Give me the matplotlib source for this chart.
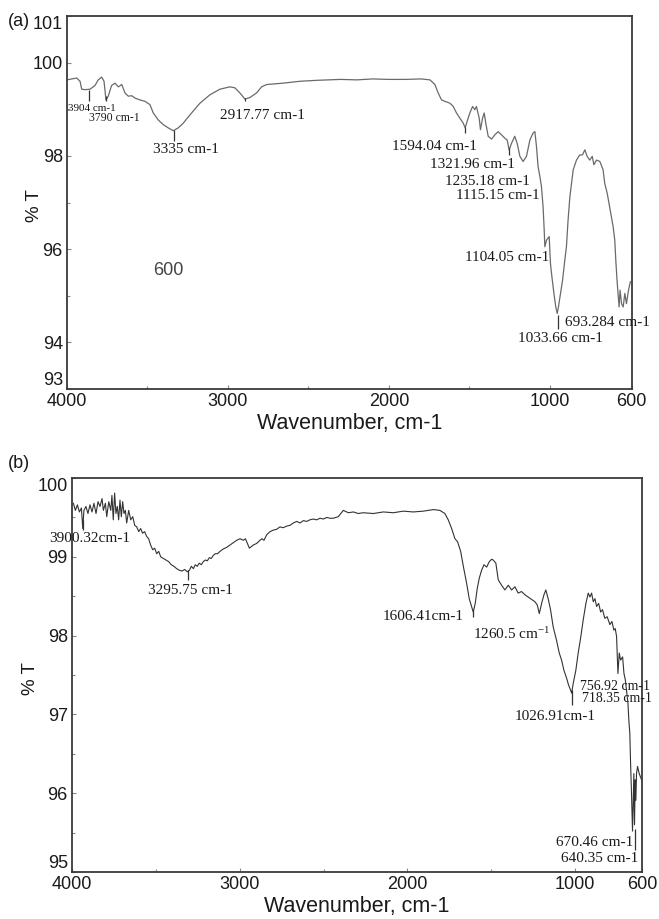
import numpy as np
import matplotlib
matplotlib.use("Agg")
import matplotlib.pyplot as plt
from matplotlib.ticker import FixedLocator, FixedFormatter

plt.rcParams['font.family'] = ['Liberation Sans', 'DejaVu Sans']
plt.rcParams['mathtext.fontset'] = 'custom'
plt.rcParams['mathtext.rm'] = 'Liberation Serif'
plt.rcParams['mathtext.it'] = 'Liberation Serif:italic'

# ---------------- data: panel (a) ----------------
wn_a = [4000, 3971, 3940, 3919, 3909, 3888, 3857, 3826, 3806, 3785, 3770, 3758, 3744, 3723,
        3702, 3681, 3660, 3640, 3619, 3598, 3578, 3547, 3516, 3485, 3464, 3433, 3402, 3371,
        3340, 3309, 3278, 3236, 3174, 3112, 3050, 2988, 2957, 2926, 2895, 2864, 2822, 2791,
        2760, 2657, 2553, 2450, 2367, 2300, 2200, 2100, 2000, 1900, 1800, 1745,
        1714, 1694, 1673, 1652, 1621, 1600, 1580, 1559, 1538, 1526, 1514, 1497, 1480, 1466,
        1456, 1439, 1431, 1418, 1408, 1398, 1383, 1362, 1342, 1321, 1300, 1280, 1265, 1253,
        1238, 1218, 1203, 1186, 1166, 1145, 1124, 1104, 1093, 1083, 1073, 1062, 1052, 1042,
        1035, 1031, 1021, 1004, 997, 990, 980, 971, 964, 958, 948, 938, 927, 919, 911, 902,
        894, 886, 870, 854, 841, 829, 818, 805, 793, 785, 772, 756, 740, 732, 720, 711, 699,
        691, 683, 678, 672, 667, 662, 657, 650, 642, 634, 626, 616, 607]
T_a = [99.63, 99.65, 99.67, 99.60, 99.43, 99.42, 99.43, 99.51, 99.63, 99.69, 99.60, 99.20,
       99.28, 99.51, 99.56, 99.48, 99.53, 99.35, 99.28, 99.29, 99.24, 99.20, 99.17, 99.10,
       98.92, 98.77, 98.67, 98.60, 98.54, 98.60, 98.70, 98.88, 99.13, 99.31, 99.43, 99.48,
       99.46, 99.35, 99.22, 99.25, 99.35, 99.48, 99.53, 99.56, 99.60, 99.62, 99.63, 99.64,
       99.63, 99.65, 99.64, 99.64, 99.65, 99.63,
       99.53, 99.35, 99.20, 99.17, 99.13, 99.06, 98.92, 98.81, 98.70, 98.60, 98.74, 98.92,
       99.06, 98.99, 99.06, 98.81, 98.56, 98.81, 98.92, 98.70, 98.42, 98.36, 98.45, 98.52,
       98.45, 98.38, 98.34, 98.13, 98.27, 98.42, 98.27, 97.99, 97.88, 97.99, 98.34, 98.49,
       98.52, 98.20, 97.77, 97.56, 97.34, 96.91, 96.41, 96.05, 96.19, 96.27, 95.69, 95.41,
       95.05, 94.76, 94.62, 94.76, 95.05, 95.33, 95.76, 96.05, 96.62, 97.13, 97.41, 97.70,
       97.91, 98.02, 98.02, 98.13, 97.99, 97.91, 97.99, 97.81, 97.91, 97.88, 97.70, 97.41,
       97.20, 96.98, 96.70, 96.48, 96.19, 95.76, 95.33, 95.05, 94.76, 95.12, 94.83, 94.76,
       95.05, 94.83, 95.12, 95.30]

# peak labels, panel (a)
lab_a = ["3904 cm-1", "3790 cm-1", "3335 cm-1", "2917.77 cm-1", "1594.04 cm-1",
         "1321.96 cm-1", "1235.18 cm-1", "1115.15 cm-1", "1104.05 cm-1",
         "693.284 cm-1", "1033.66 cm-1"]
lab_a_x = [3994, 3861, 3466, 3050, 1981, 1745, 1652, 1584, 1528, 927, 1199]
lab_a_y = [99.01, 98.82, 98.13, 98.86, 98.21, 97.81, 97.46, 97.16, 95.83, 94.43, 94.09]
lab_a_size = [8, 8.5, 11, 11, 11, 11, 11, 11, 11, 11, 11]

mark_a_x = [3861, 3758, 3335, 2895, 1526, 1253, 962]
mark_a_top = [99.42, 99.28, 98.56, 99.25, 98.62, 98.16, 94.58]
mark_a_bot = [99.17, 99.17, 98.31, 99.17, 98.48, 98.02, 94.29]

# ---------------- data: panel (b) ----------------
wn_b = [3992, 3980, 3968, 3956, 3944, 3936, 3929, 3917, 3905, 3893, 3881, 3869, 3857, 3845,
        3833, 3821, 3813, 3801, 3793, 3781, 3769, 3762, 3754, 3746, 3738, 3730, 3722, 3714,
        3706, 3698, 3690, 3682, 3674, 3662, 3650, 3638, 3626, 3614, 3602, 3591, 3579, 3567,
        3555, 3543, 3531, 3519, 3507, 3495, 3483, 3471, 3455, 3439, 3424, 3408, 3392, 3376,
        3360, 3344, 3328, 3312, 3300, 3288, 3276, 3265, 3253, 3241, 3229, 3217, 3205, 3193,
        3181, 3169, 3157, 3145, 3133, 3117, 3098, 3078, 3058, 3038, 3018, 2998, 2978, 2966,
        2954, 2942, 2931, 2919, 2899, 2879, 2867, 2855, 2839, 2819, 2799, 2779, 2760, 2740,
        2720, 2700, 2680, 2660, 2640, 2620, 2601, 2581, 2561, 2541, 2521, 2501, 2481, 2461,
        2441, 2412, 2382, 2352, 2322, 2293, 2263, 2203, 2143, 2084, 2024, 1965, 1905, 1845,
        1806, 1776, 1756, 1736, 1716, 1700, 1682, 1666, 1646, 1631, 1617, 1607, 1595, 1583,
        1571, 1557, 1543, 1527, 1511, 1497, 1488, 1472, 1458, 1438, 1418, 1398, 1378, 1358,
        1339, 1319, 1299, 1279, 1259, 1239, 1225, 1213, 1199, 1185, 1174, 1160, 1146, 1130,
        1110, 1094, 1080, 1066, 1050, 1038, 1030, 1020, 1011, 995, 981, 965, 951, 935, 921,
        911, 901, 891, 881, 871, 859, 847, 836, 822, 808, 792, 780, 768, 760, 752, 744, 736,
        728, 716, 708, 700, 692, 684, 679, 673, 669, 663, 657, 653, 649, 645, 641, 637, 633,
        627, 617, 603]
T_b = [99.68, 99.59, 99.66, 99.57, 99.62, 99.36, 99.59, 99.64, 99.55, 99.66, 99.57, 99.68,
       99.55, 99.70, 99.64, 99.74, 99.59, 99.68, 99.51, 99.70, 99.59, 99.78, 99.47, 99.81,
       99.55, 99.64, 99.47, 99.72, 99.51, 99.70, 99.55, 99.59, 99.43, 99.59, 99.47, 99.51,
       99.40, 99.38, 99.32, 99.36, 99.30, 99.32, 99.26, 99.23, 99.15, 99.09, 99.11, 99.04,
       99.07, 99.00, 98.98, 98.96, 98.94, 98.90, 98.88, 98.85, 98.83, 98.82, 98.84, 98.81,
       98.83, 98.88, 98.85, 98.90, 98.88, 98.92, 98.90, 98.94, 98.96, 98.95, 98.99, 98.98,
       99.02, 99.04, 99.04, 99.07, 99.10, 99.12, 99.15, 99.18, 99.21, 99.23, 99.21, 99.23,
       99.17, 99.11, 99.13, 99.15, 99.17, 99.21, 99.23, 99.21, 99.28, 99.32, 99.34, 99.35,
       99.38, 99.37, 99.39, 99.40, 99.43, 99.45, 99.43, 99.46, 99.45, 99.47, 99.48, 99.47,
       99.49, 99.48, 99.50, 99.49, 99.49, 99.51, 99.59, 99.56, 99.57, 99.55, 99.56, 99.55,
       99.57, 99.56, 99.58, 99.57, 99.58, 99.60, 99.59, 99.55, 99.47, 99.36, 99.23, 99.19,
       99.07, 98.88, 98.66, 98.47, 98.37, 98.30, 98.41, 98.60, 98.73, 98.83, 98.90, 98.87,
       98.94, 98.97, 98.96, 98.92, 98.71, 98.64, 98.58, 98.64, 98.58, 98.62, 98.54, 98.56,
       98.52, 98.49, 98.46, 98.43, 98.39, 98.28, 98.41, 98.52, 98.58, 98.47, 98.33, 98.11,
       97.94, 97.78, 97.69, 97.56, 97.46, 97.37, 97.33, 97.27, 97.39, 97.56, 97.78, 97.99,
       98.20, 98.41, 98.54, 98.49, 98.54, 98.43, 98.47, 98.37, 98.41, 98.30, 98.33, 98.22,
       98.24, 98.14, 98.18, 98.07, 98.09, 97.99, 97.52, 97.78, 97.69, 97.73, 97.52, 97.44,
       97.29, 97.14, 96.93, 96.76, 96.42, 96.00, 95.52, 95.91, 96.25, 95.60, 96.17, 95.91,
       96.25, 96.34, 96.25, 96.17]

lab_b = ["3900.32cm-1", "3295.75 cm-1", "1606.41cm-1", r"1260.5 cm$^{\mathrm{-1}}$",
         "1026.91cm-1", "756.92 cm-1", "718.35 cm-1", "670.46 cm-1", "640.35 cm-1"]
lab_b_x = [4137, 3547, 2146, 1609, 1358, 971, 959, 1114, 1084]
lab_b_y = [99.23, 98.57, 98.24, 98.02, 96.97, 97.35, 97.20, 95.37, 95.17]
lab_b_size = [11, 11, 11, 11, 11, 10, 10, 11, 11]

mark_b_x = [3936, 3306, 1607, 1020, 643]
mark_b_top = [99.47, 98.83, 98.33, 97.31, 95.55]
mark_b_bot = [99.34, 98.70, 98.24, 97.12, 95.28]

# ---------------- figure ----------------
fig = plt.figure(figsize=(6.59, 9.19), dpi=100)
ax1 = fig.add_axes([0.1017, 0.5767, 0.857, 0.4059])
ax2 = fig.add_axes([0.1093, 0.0511, 0.865, 0.4287])

K = 1.273  # scale stretch below 1000 cm-1 in panel (a)


def fwd(x):
    x = np.asarray(x, dtype=float)
    return np.where(x >= 1000, x, 1000 - (1000 - x) * K)


def inv(y):
    y = np.asarray(y, dtype=float)
    return np.where(y >= 1000, y, 1000 - (1000 - y) / K)


ax1.set_xscale('function', functions=(fwd, inv))

spine_c = '#3a3a3a'
for ax in (ax1, ax2):
    for s in ax.spines.values():
        s.set_color(spine_c)
        s.set_linewidth(1.3)
    ax.tick_params(which='both', direction='in', length=3, width=0.8, color='#888888',
                   labelsize=13, labelcolor='#1a1a1a', pad=3)
    ax.tick_params(which='minor', length=2)

# panel (a)
ax1.plot(wn_a, T_a, color='#6a6a6a', lw=0.9)
ax1.vlines(mark_a_x, mark_a_bot, mark_a_top, color='#333333', lw=0.9)
ax1.set_xlim(4000, 600)
ax1.set_ylim(93, 101)
ax1.xaxis.set_major_locator(FixedLocator([4000, 3000, 2000, 1000, 600]))
ax1.xaxis.set_major_formatter(FixedFormatter(['4000', '3000', '2000', '1000', '600']))
ax1.xaxis.set_minor_locator(FixedLocator([3500, 2500, 1500]))
ax1.yaxis.set_major_locator(FixedLocator([93, 94, 96, 98, 100, 101]))
ax1.yaxis.set_major_formatter(FixedFormatter(['93', '94', '96', '98', '100', '101']))
ax1.yaxis.set_minor_locator(FixedLocator([95, 97, 99]))
for t, x, y, s in zip(lab_a, lab_a_x, lab_a_y, lab_a_size):
    ax1.text(x, y, t, family='Liberation Serif', fontsize=s, color='#1a1a1a',
             ha='left', va='center')
ax1.text(3466, 95.55, '600', fontsize=13, color='#444444', ha='left', va='center')
ax1.set_xlabel('Wavenumber, cm-1', fontsize=15.5, color='#1a1a1a', labelpad=2)
ax1.set_ylabel('% T', fontsize=13.5, color='#1a1a1a')
ax1.yaxis.set_label_coords(-0.042, 0.493)

# panel (b)
ax2.plot(wn_b, T_b, color='#333333', lw=0.8)
ax2.vlines(mark_b_x, mark_b_bot, mark_b_top, color='#333333', lw=0.9)
ax2.set_xlim(4000, 600)
ax2.set_ylim(95, 100)
ax2.xaxis.set_major_locator(FixedLocator([4000, 3000, 2000, 1000, 600]))
ax2.xaxis.set_major_formatter(FixedFormatter(['4000', '3000', '2000', '1000', '600']))
ax2.xaxis.set_minor_locator(FixedLocator([3500, 2500, 1500]))
ax2.yaxis.set_major_locator(FixedLocator([95, 96, 97, 98, 99, 100]))
ax2.yaxis.set_minor_locator(FixedLocator([95.5, 96.5, 97.5, 98.5, 99.5]))
for t, x, y, s in zip(lab_b, lab_b_x, lab_b_y, lab_b_size):
    ax2.text(x, y, t, family='Liberation Serif', fontsize=s, color='#1a1a1a',
             ha='left', va='center', clip_on=False)
ax2.set_xlabel('Wavenumber, cm-1', fontsize=15.5, color='#1a1a1a', labelpad=2)
ax2.set_ylabel('% T', fontsize=13.5, color='#1a1a1a')
ax2.yaxis.set_label_coords(-0.058, 0.49)

# extreme y tick labels sit inside the axis range, as in the original
fig.canvas.draw()
for ax in (ax1, ax2):
    labs = ax.get_yticklabels()
    labs[0].set_verticalalignment('bottom')
    labs[-1].set_verticalalignment('top')

fig.text(8 / 659, 1 - 22 / 919, '(a)', fontsize=13, color='#1a1a1a', ha='left', va='center')
fig.text(8 / 659, 1 - 463 / 919, '(b)', fontsize=13, color='#1a1a1a', ha='left', va='center')

fig.savefig('out.png', dpi=100)
